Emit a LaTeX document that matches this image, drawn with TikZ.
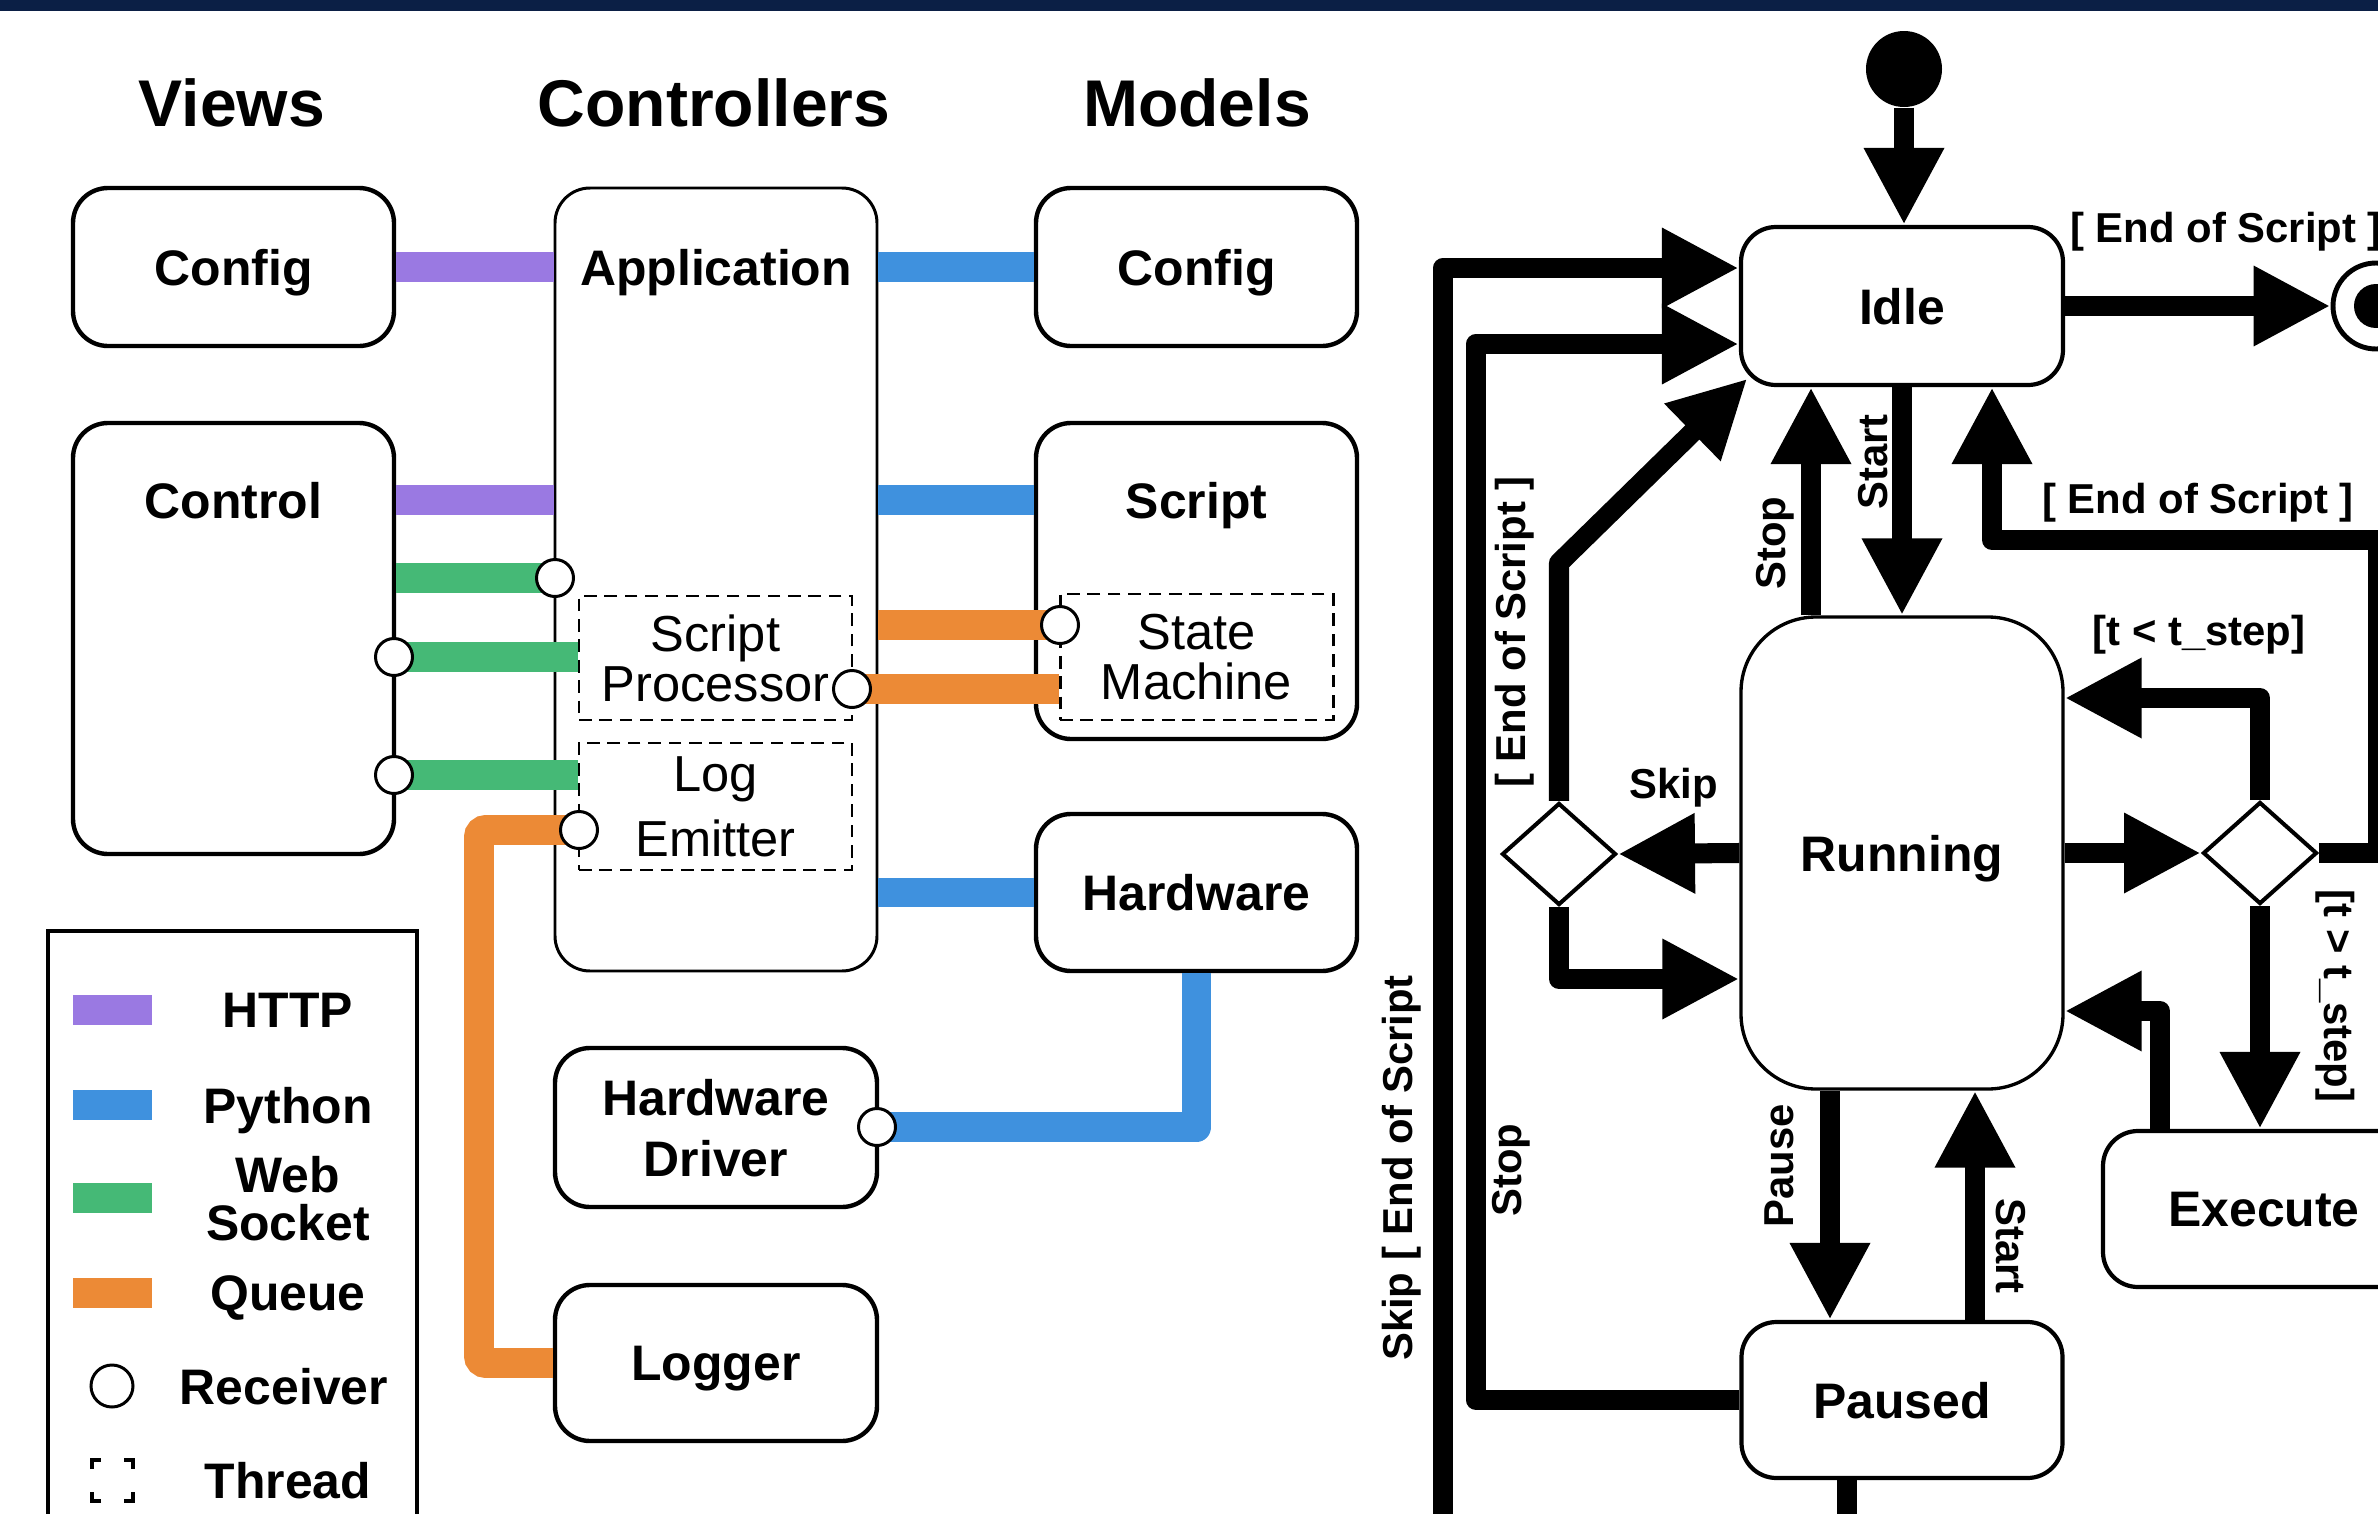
\documentclass[tikz,border=0pt]{standalone}
\usepackage{fontspec}
\setmainfont{Liberation Sans}
\usetikzlibrary{arrows.meta,shapes.geometric}
\definecolor{navy}{RGB}{11,31,69}
\definecolor{chttp}{RGB}{154,121,226}
\definecolor{cpy}{RGB}{63,145,222}
\definecolor{cws}{RGB}{69,185,118}
\definecolor{cq}{RGB}{236,138,54}
\begin{document}
\begin{tikzpicture}[x=0.1mm,y=-0.1mm,
  title/.style={inner sep=0pt,font=\fontsize{18.8}{22}\selectfont\bfseries},
  lbl/.style={inner sep=0pt,align=center,text depth=0pt,font=\fontsize{14.2}{19}\selectfont\bfseries},
  thr/.style={inner sep=0pt,align=center,font=\fontsize{14.4}{14.2}\selectfont},
  elab/.style={inner sep=0pt,font=\fontsize{11.9}{14}\selectfont\bfseries},
  box/.style={draw,rounded corners=3.5mm,line width=1.25pt,fill=white,inner sep=0pt,text depth=0pt,
    minimum width=32.1mm,minimum height=15.8mm,align=center,font=\fontsize{14.2}{19}\selectfont\bfseries},
  thread/.style={draw,dash pattern=on 3.6pt off 2.2pt,line width=0.85pt,inner sep=0pt,
    minimum width=27.3mm,minimum height=12.5mm},
  recv/.style={circle,draw,fill=white,line width=0.85pt,minimum size=3.7mm,inner sep=0pt},
  conn/.style={line width=8.5pt},
  http/.style={conn,draw=chttp},
  py/.style={conn,draw=cpy},
  ws/.style={conn,draw=cws},
  qu/.style={conn,draw=cq,rounded corners=2pt},
  st/.style={box,line width=1.2pt},
  dia/.style={diamond,draw,fill=white,line width=1.15pt,inner sep=0pt,minimum width=11.4mm,minimum height=10.2mm},
  flow/.style={line width=5.7pt,line join=round,-{Triangle[length=21.9pt,width=21.3pt]}},
  plain/.style={line width=5.7pt,line join=round}
]
\useasboundingbox (0,0) rectangle (2378,1514);
\clip (0,0) rectangle (2378,1514);
\fill[white] (0,0) rectangle (2378,1514);
\fill[navy] (0,0) rectangle (2378,11);

% ---------- left panel ----------
\node[title] (tViews) at (232,103) {Views};
\node[title] (tCtrl) at (714,103) {Controllers};
\node[title] (tModels) at (1197,103) {Models};

\node[box] (vconfig) at (233.5,267) {Config};
\node[box,minimum height=43.1mm] (vcontrol) at (233.5,638.5) {};
\node[lbl] (ctrlT) at (233.5,500) {Control};
\node[box,line width=0.85pt,minimum width=32.2mm,minimum height=78.3mm] (app) at (716,579.5) {};
\node[lbl] (appT) at (716,267) {Application};
\node[box] (mconfig) at (1196.5,267) {Config};
\node[box,minimum height=31.6mm] (script) at (1196.5,581) {};
\node[lbl] (scriptT) at (1196.5,500) {Script};
\node[box,minimum height=15.7mm] (hardware) at (1196.5,892.5) {Hardware};
\node[box,minimum width=32.2mm,minimum height=15.9mm] (driver) at (716,1127.5) {Hardware\\[-1.6pt]Driver};
\node[box,minimum width=32.2mm,minimum height=15.6mm] (logger) at (716,1363) {Logger};

\node[thread,thr,minimum width=27.3mm,minimum height=12.4mm] (sp) at (715.5,658) {Script\\Processor};
\node[thread,thr,minimum width=27.3mm,minimum height=12.7mm] (le) at (715.5,806.5) {Log\\[4.3pt]Emitter};
\node[thread,thr,minimum width=27.3mm,minimum height=12.6mm] (sm) at (1196.5,657) {State\\Machine};

\coordinate (c1) at (555,578);
\coordinate (c2) at (394,657);
\coordinate (c3) at (394,775);
\coordinate (c4) at (1060,625);
\coordinate (c5) at (852,689);
\coordinate (c6) at (579,830);
\coordinate (c7) at (877,1127);

\draw[http] (vconfig.east) -- (app.west |- vconfig.east);
\draw[http] (vcontrol.east |- ctrlT) -- (app.west |- ctrlT);
\draw[py] (app.east |- mconfig.west) -- (mconfig.west);
\draw[py] (app.east |- scriptT) -- (script.west |- scriptT);
\draw[ws] (vcontrol.east |- c1) -- (c1);
\draw[ws] (c2) -- (sp.west |- c2);
\draw[ws] (c3) -- (le.west |- c3);
\draw[qu] (app.east |- c4) -- (c4);
\draw[qu] (c5) -- (sm.west |- c5);
\draw[qu] (c6) -- (479,830) |- (logger.west);
\draw[py] (app.east |- hardware.west) -- (hardware.west);
\draw[py,line join=round] (hardware.south) |- (c7);

\foreach \c/\n in {c1/r1,c2/r2,c3/r3,c4/r4,c5/r5,c6/r6,c7/r7}
  \node[recv] (\n) at (\c) {};

% legend
\node[draw,line width=1.1pt,minimum width=36.9mm,minimum height=63mm,inner sep=0pt] (legend) at (232.5,1246) {};
\fill[chttp] (73,995) rectangle (152,1025);
\fill[cpy] (73,1090) rectangle (152,1120);
\fill[cws] (73,1183) rectangle (152,1213);
\fill[cq] (73,1278) rectangle (152,1308);
\node[lbl] (lHTTP) at (288,1010) {HTTP};
\node[lbl] (lPy) at (288,1105) {Python};
\node[lbl,font=\fontsize{14.2}{13.7}\selectfont\bfseries] (lWS) at (288,1198) {Web\\Socket};
\node[lbl] (lQ) at (288,1293) {Queue};
\node[recv,minimum size=4.2mm] (lrecv) at (112,1386) {};
\node[lbl] (lR) at (284,1386) {Receiver};
\draw[line width=0.9pt] (92,1469) -- (92,1460) -- (101,1460)
  (124,1460) -- (133,1460) -- (133,1469)
  (133,1492) -- (133,1501) -- (124,1501)
  (101,1501) -- (92,1501) -- (92,1492);
\node[lbl] (lT) at (288,1480) {Thread};

% ---------- right panel ----------
\node[circle,fill,minimum size=7.6mm,inner sep=0pt] (init) at (1904,69) {};
\node[st,minimum width=32.2mm] (idle) at (1902,306) {Idle};
\node[st,line width=0.95pt,rounded corners=7.5mm,minimum width=32.2mm,minimum height=47.2mm] (running) at (1902,853) {Running};
\node[st,minimum width=32.1mm,minimum height=15.6mm] (paused) at (1902,1400) {Paused};
\node[st,minimum width=32.2mm,minimum height=15.6mm] (execute) at (2264,1209) {Execute};
\node[dia] (dl) at (1559,854) {};
\node[dia] (dr) at (2260,853) {};
\node[circle,draw,fill=white,line width=1.4pt,minimum size=8.6mm,inner sep=0pt] (final) at (2376,306) {};
\fill (final.center) circle[radius=22];
\coordinate (idlecorner) at ([shift={(8.5,-8.5)}]idle.south west);

\draw[flow] (init) -- (init |- idle.north);
\draw[flow] (idle.east) -- (final.west);
\draw[flow] (idle.south) -- (running.north);
\draw[flow] ([xshift=-9.1mm]running.north) -- ([xshift=-9.1mm]idle.south);
\draw[flow] (dr.east) -| (2378,540) -| ([xshift=9mm]idle.south);
\draw[flow] (dr.north) |- ([yshift=15.5mm]running.east);
\draw[flow] (running.east) -- (dr.west);
\draw[flow] (dr.south) -- (dr.south |- execute.north);
\draw[flow] ([xshift=-10.4mm]execute.north) |- ([yshift=-15.8mm]running.east);
\draw[flow] (running.west) -- (dl.east);
\draw[flow] (dl.south) |- ([yshift=-12.6mm]running.west);
\draw[flow] (dl.north) -- (dl.north |- 0,563) -- (idlecorner);
\draw[flow] (paused.west) -| ([xshift=-26.3mm,yshift=-3.8mm]idle.west) -- ([yshift=-3.8mm]idle.west);
\draw[flow] ([xshift=-5.5mm]paused.south) -- ++(0,160) -| ([xshift=-29.6mm,yshift=3.8mm]idle.west) -- ([yshift=3.8mm]idle.west);
\draw[flow] ([xshift=-7.2mm]running.south) -- ([xshift=-7.2mm]paused.north);
\draw[flow] ([xshift=7.3mm]paused.north) -- ([xshift=7.3mm]running.south);

\node[elab,rotate=90] (eStart1) at (1873,462) {Start};
\node[elab,rotate=90] (eStop1) at (1775,543) {Stop};
\node[elab] (eEnd1) at (2226,232) {[ End of Script ]};
\node[elab] (eEnd2) at (2198,503) {[ End of Script ]};
\node[elab] (eLess) at (2199,635) {[t < t\_step]};
\node[elab] (eSkip) at (1674,788) {Skip};
\node[elab,rotate=90] (eEnd3) at (1515,632) {[ End of Script ]};
\node[elab,rotate=-90] (eMore) at (2335,996) {[t > t\_step]};
\node[elab,rotate=90] (ePause) at (1779,1166) {Pause};
\node[elab,rotate=-90] (eStart2) at (2011,1246) {Start};
\node[elab,rotate=90] (eStop2) at (1511,1170) {Stop};
\node[elab,rotate=90] (eSkip2) at (1402,1168) {Skip [ End of Script};
\end{tikzpicture}
\end{document}
